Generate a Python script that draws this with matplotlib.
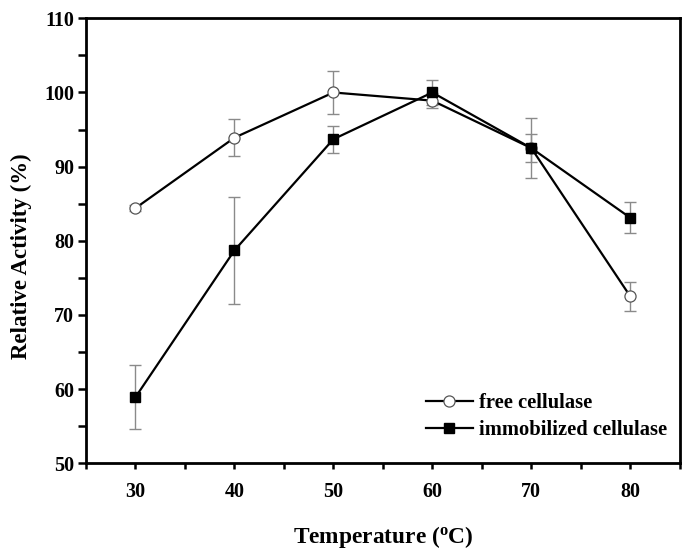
import matplotlib
matplotlib.use("Agg")
import matplotlib.pyplot as plt
from matplotlib.ticker import MultipleLocator

temps = [30, 40, 50, 60, 70, 80]
free_vals = [84.4, 93.9, 100.0, 98.9, 92.5, 72.5]
free_err = [0.4, 2.5, 2.9, 1.0, 1.9, 2.0]
immo_vals = [58.9, 78.7, 93.7, 100.0, 92.5, 83.1]
immo_err = [4.3, 7.2, 1.8, 1.7, 4.1, 2.1]

plt.rcParams['font.family'] = ['Liberation Serif', 'DejaVu Serif']

fig = plt.figure(figsize=(6.88, 5.56), dpi=100)
ax = fig.add_axes([0.125, 0.167, 0.863, 0.800])

ax.errorbar(temps, free_vals, yerr=free_err, fmt='none', ecolor='#8a8a8a',
            elinewidth=1.0, capsize=4, capthick=1.0, zorder=2)
ax.errorbar(temps, immo_vals, yerr=immo_err, fmt='none', ecolor='#8a8a8a',
            elinewidth=1.0, capsize=4, capthick=1.0, zorder=2)
ax.plot(temps, free_vals, '-o', color='black', lw=1.6, ms=8,
        mfc='white', mec='#555555', mew=0.9, label='free cellulase', zorder=3)
ax.plot(temps, immo_vals, '-s', color='black', lw=1.6, ms=7.5,
        mfc='black', mec='black', label='immobilized cellulase', zorder=4)

ax.set_xlim(25, 85)
ax.set_ylim(50, 110)
ax.xaxis.set_major_locator(MultipleLocator(10))
ax.xaxis.set_minor_locator(MultipleLocator(5))
ax.yaxis.set_major_locator(MultipleLocator(10))
ax.yaxis.set_minor_locator(MultipleLocator(5))
ax.tick_params(axis='x', which='both', direction='out', width=1.8, length=4.5,
               labelsize=14.5, pad=9, top=False)
ax.tick_params(axis='y', which='both', direction='out', width=1.8, length=6,
               labelsize=14.5, pad=2.5, right=False)
for lab in ax.get_xticklabels() + ax.get_yticklabels():
    lab.set_fontweight('bold')
for s in ax.spines.values():
    s.set_linewidth(2)

ax.set_xlabel('Temperature ($\\mathregular{^{o}}$C)', fontsize=16.8,
              fontweight='bold', labelpad=16)
ax.set_ylabel('Relative Activity (%)', fontsize=16.5, fontweight='bold',
              labelpad=9)
ax.yaxis.label.set_y(0.465)

leg = ax.legend(loc='lower right', bbox_to_anchor=(0.978, 0.052),
                frameon=False, handlelength=2.3, handletextpad=0.28,
                labelspacing=0.35, borderaxespad=0, borderpad=0,
                prop={'weight': 'bold', 'size': 14.8})

fig.savefig('out.png', dpi=100)
